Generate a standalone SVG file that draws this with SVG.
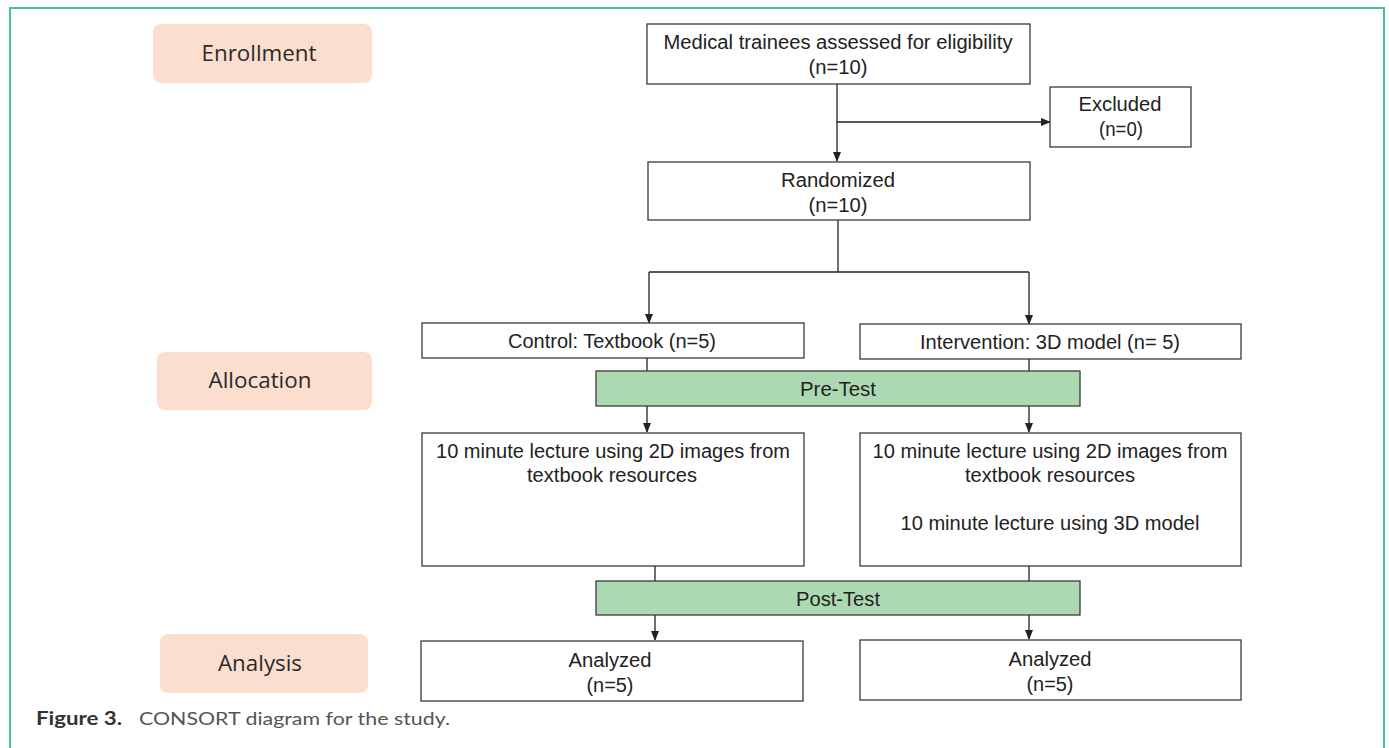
<svg xmlns="http://www.w3.org/2000/svg" width="1389" height="748" viewBox="0 0 1389 748">
<style>
.frame{fill:none;stroke:#4dbf98;stroke-width:2}
.stage{fill:#fcdecf}
.stxt{font-family:"Open Sans","Liberation Sans",sans-serif;font-size:21px;fill:#2a2a2a;text-anchor:middle}
.box{fill:#fff;stroke:#3a3a3a;stroke-width:1.3}
.test{fill:#acd9b2;stroke:#3a3a3a;stroke-width:1.3}
.t{font-family:"Liberation Sans",Arial,sans-serif;font-size:20px;fill:#222;text-anchor:middle}
.c{fill:none;stroke:#222;stroke-width:1.3}
.cap{font-family:"Lato","Noto Sans",sans-serif;font-size:18px}
</style>
<defs>
<marker id="ah" markerWidth="10" markerHeight="8" refX="9" refY="4" orient="auto" markerUnits="userSpaceOnUse">
<path d="M0,0 L10,4 L0,8 Z" fill="#222"/>
</marker>
</defs>
<rect width="1389" height="748" fill="#fff"/>
<path class="frame" d="M10,760 V8 H1384 V760"/>

<g id="stage-enrollment"><rect class="stage" x="153" y="24" width="219" height="59" rx="8"/><text class="stxt" x="259" y="61" textLength="115" lengthAdjust="spacingAndGlyphs">Enrollment</text></g>
<g id="stage-allocation"><rect class="stage" x="157" y="352" width="215" height="58" rx="8"/><text class="stxt" x="260" y="388" textLength="103" lengthAdjust="spacingAndGlyphs">Allocation</text></g>
<g id="stage-analysis"><rect class="stage" x="160" y="634" width="208" height="59" rx="8"/><text class="stxt" x="260" y="671" textLength="84" lengthAdjust="spacingAndGlyphs">Analysis</text></g>

<g id="connectors">
<path class="c" d="M837,84 V161" marker-end="url(#ah)"/>
<path class="c" d="M837,122 H1050" marker-end="url(#ah)"/>
<path class="c" d="M838,220 V272"/>
<path class="c" d="M649,272 H1029"/>
<path class="c" d="M649,272 V323" marker-end="url(#ah)"/>
<path class="c" d="M1029,272 V324" marker-end="url(#ah)"/>
<path class="c" d="M647,358 V371"/>
<path class="c" d="M1029,359 V371"/>
<path class="c" d="M647,406 V432" marker-end="url(#ah)"/>
<path class="c" d="M1029,406 V432" marker-end="url(#ah)"/>
<path class="c" d="M655,566 V581"/>
<path class="c" d="M1029,566 V581"/>
<path class="c" d="M655,615 V640" marker-end="url(#ah)"/>
<path class="c" d="M1029,615 V639" marker-end="url(#ah)"/>
</g>

<g id="assessed"><rect class="box" x="647" y="24" width="383" height="60"/>
<text class="t" x="838" y="49" textLength="349" lengthAdjust="spacingAndGlyphs">Medical trainees assessed for eligibility</text>
<text class="t" x="838" y="74" textLength="59" lengthAdjust="spacingAndGlyphs">(n=10)</text></g>

<g id="excluded"><rect class="box" x="1050" y="87" width="141" height="60"/>
<text class="t" x="1120" y="111" textLength="83" lengthAdjust="spacingAndGlyphs">Excluded</text>
<text class="t" x="1121" y="136" textLength="44" lengthAdjust="spacingAndGlyphs">(n=0)</text></g>

<g id="randomized"><rect class="box" x="648" y="162" width="382" height="58"/>
<text class="t" x="838" y="187" textLength="114" lengthAdjust="spacingAndGlyphs">Randomized</text>
<text class="t" x="838" y="212" textLength="59" lengthAdjust="spacingAndGlyphs">(n=10)</text></g>

<g id="control"><rect class="box" x="422" y="323" width="382" height="35"/>
<text class="t" x="612" y="348" textLength="208" lengthAdjust="spacingAndGlyphs">Control: Textbook (n=5)</text></g>

<g id="intervention"><rect class="box" x="860" y="324" width="381" height="35"/>
<text class="t" x="1050" y="349" textLength="260" lengthAdjust="spacingAndGlyphs">Intervention: 3D model (n= 5)</text></g>

<g id="pretest"><rect class="test" x="596" y="371" width="484" height="35"/>
<text class="t" x="838" y="396" textLength="76" lengthAdjust="spacingAndGlyphs">Pre-Test</text></g>

<g id="lecture-control"><rect class="box" x="422" y="433" width="382" height="133"/>
<text class="t" x="613" y="458" textLength="354" lengthAdjust="spacingAndGlyphs">10 minute lecture using 2D images from</text>
<text class="t" x="612" y="482" textLength="170" lengthAdjust="spacingAndGlyphs">textbook resources</text></g>

<g id="lecture-intervention"><rect class="box" x="860" y="433" width="381" height="133"/>
<text class="t" x="1050" y="458" textLength="355" lengthAdjust="spacingAndGlyphs">10 minute lecture using 2D images from</text>
<text class="t" x="1050" y="482" textLength="170" lengthAdjust="spacingAndGlyphs">textbook resources</text>
<text class="t" x="1050" y="530" textLength="299" lengthAdjust="spacingAndGlyphs">10 minute lecture using 3D model</text></g>

<g id="posttest"><rect class="test" x="596" y="581" width="484" height="34"/>
<text class="t" x="838" y="606" textLength="84" lengthAdjust="spacingAndGlyphs">Post-Test</text></g>

<g id="analyzed-control"><rect class="box" x="421" y="641" width="382" height="60"/>
<text class="t" x="610" y="667" textLength="83" lengthAdjust="spacingAndGlyphs">Analyzed</text>
<text class="t" x="610" y="692" textLength="47" lengthAdjust="spacingAndGlyphs">(n=5)</text></g>

<g id="analyzed-intervention"><rect class="box" x="860" y="640" width="381" height="60"/>
<text class="t" x="1050" y="666" textLength="83" lengthAdjust="spacingAndGlyphs">Analyzed</text>
<text class="t" x="1050" y="691" textLength="47" lengthAdjust="spacingAndGlyphs">(n=5)</text></g>

<g id="caption">
<text class="cap" x="36" y="725" font-weight="bold" fill="#333" textLength="86" lengthAdjust="spacingAndGlyphs">Figure 3.</text>
<text class="cap" x="139" y="725" fill="#555" textLength="311" lengthAdjust="spacingAndGlyphs">CONSORT diagram for the study.</text>
</g>
</svg>
